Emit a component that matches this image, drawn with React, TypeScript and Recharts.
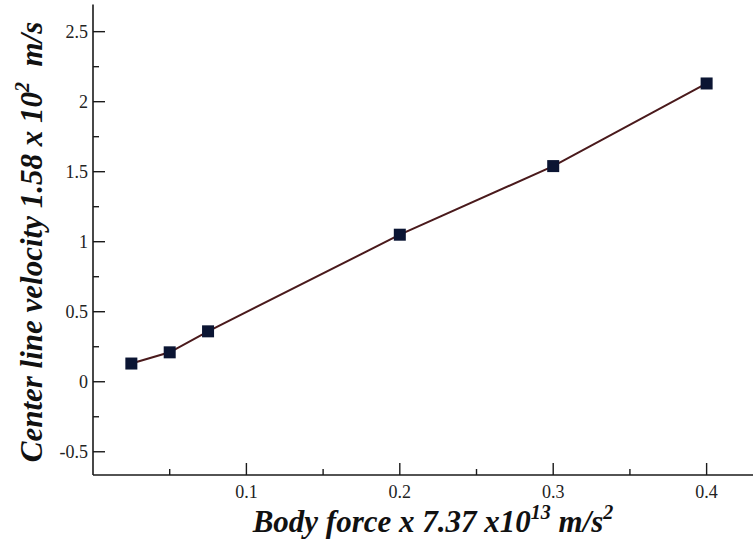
import React from "react";
import { LineChart, Line, XAxis, YAxis, Label } from "recharts";

// Body force (scaled) vs. center line velocity (scaled)
const bodyForce = [0.025, 0.05, 0.075, 0.2, 0.3, 0.4];
const centerVelocity = [0.13, 0.21, 0.36, 1.05, 1.54, 2.13];

const xMajorTicks = [0.1, 0.2, 0.3, 0.4];
const xMinorTicks = [0.05, 0.15, 0.25, 0.35];
const yMajorTicks = [-0.5, 0, 0.5, 1, 1.5, 2, 2.5];
const yMinorTicks = [-0.25, 0.25, 0.75, 1.25, 1.75, 2.25];

const X_DOMAIN: [number, number] = [0, 0.4348];
const Y_DOMAIN: [number, number] = [-0.666, 2.694];

const data = bodyForce.map((f, i) => ({ force: f, velocity: centerVelocity[i] }));

const AXIS_COLOR = "#1a1a1a";
const TICK_TEXT = "#222222";
const LINE_COLOR = "#4a1a1c";
const MARKER_COLOR = "#0b1533";
const SERIF = "Liberation Serif";

const MAJOR_LEN = 12;
const MINOR_LEN = 6;

const xTicksAll = [...xMinorTicks, ...xMajorTicks].sort((a, b) => a - b);
const yTicksAll = [...yMinorTicks, ...yMajorTicks].sort((a, b) => a - b);

const tickTextStyle: React.CSSProperties = { fontFamily: SERIF, fontSize: 18 };

// Inward ticks on the bottom axis, labelled at the major positions
const BottomTick = (props: any) => {
  const { x, y, payload } = props;
  const major = xMajorTicks.includes(payload.value);
  return (
    <g>
      <line x1={x} y1={y} x2={x} y2={y - (major ? MAJOR_LEN : MINOR_LEN)} stroke={AXIS_COLOR} strokeWidth={1.4} />
      {major && (
        <text x={x} y={y + 23} textAnchor="middle" fill={TICK_TEXT} style={tickTextStyle}>
          {payload.value}
        </text>
      )}
    </g>
  );
};

// Inward ticks on the top axis, no labels
const TopTick = (props: any) => {
  const { x, y, payload } = props;
  const major = xMajorTicks.includes(payload.value);
  return (
    <line x1={x} y1={y} x2={x} y2={y + (major ? MAJOR_LEN : MINOR_LEN)} stroke={AXIS_COLOR} strokeWidth={1.4} />
  );
};

// Inward ticks on the left axis, labelled at the major positions
const LeftTick = (props: any) => {
  const { x, y, payload } = props;
  const major = yMajorTicks.includes(payload.value);
  return (
    <g>
      <line x1={x} y1={y} x2={x + (major ? MAJOR_LEN : MINOR_LEN)} y2={y} stroke={AXIS_COLOR} strokeWidth={1.4} />
      {major && (
        <text x={x - 5} y={y + 6} textAnchor="end" fill={TICK_TEXT} style={tickTextStyle}>
          {payload.value}
        </text>
      )}
    </g>
  );
};

// Inward ticks on the right axis at the major positions only
const RightTick = (props: any) => {
  const { x, y } = props;
  return <line x1={x} y1={y} x2={x - MAJOR_LEN} y2={y} stroke={AXIS_COLOR} strokeWidth={1.4} />;
};

const SquareDot = (props: any) => {
  const { cx, cy } = props;
  if (cx == null || cy == null) return null;
  const s = 12;
  return <rect x={cx - s / 2} y={cy - s / 2} width={s} height={s} fill={MARKER_COLOR} />;
};

const titleStyle: React.CSSProperties = {
  fontFamily: SERIF,
  fontSize: 31,
  fontWeight: "bold",
  fontStyle: "italic",
};

const XTitle = () => (
  <text x={433} y={532} textAnchor="middle" fill="#111111" style={titleStyle}>
    <tspan>Body force x 7.37 x10</tspan>
    <tspan style={{ fontSize: 20 }} dy={-13}>13</tspan>
    <tspan dy={13}>{" m/s"}</tspan>
    <tspan style={{ fontSize: 20 }} dy={-13}>2</tspan>
  </text>
);

const YTitle = () => (
  <text x={0} y={0} transform="translate(42, 242) rotate(-90)" textAnchor="middle" fill="#111111" style={titleStyle}>
    <tspan>Center line velocity 1.58 x 10</tspan>
    <tspan style={{ fontSize: 20 }} dy={-13}>2</tspan>
    <tspan dy={13}>{"\u00a0 m/s"}</tspan>
  </text>
);

export default function App() {
  return (
    <div
      style={{
        position: "absolute",
        left: 0,
        top: 0,
        width: 753,
        height: 546,
        overflow: "hidden",
        background: "#ffffff",
      }}
    >
      <LineChart width={780} height={546} data={data} margin={{ top: 4.5, right: 20, bottom: 0, left: 0 }}>
        <XAxis
          xAxisId="bottom"
          dataKey="force"
          type="number"
          domain={X_DOMAIN}
          allowDataOverflow
          orientation="bottom"
          height={71}
          ticks={xTicksAll}
          interval={0}
          tickSize={0}
          tickMargin={0}
          tick={<BottomTick />}
          axisLine={{ stroke: AXIS_COLOR, strokeWidth: 1.6 }}
          tickLine={false}
        >
          <Label content={<XTitle />} />
        </XAxis>
        <XAxis
          xAxisId="top"
          dataKey="force"
          type="number"
          domain={X_DOMAIN}
          allowDataOverflow
          orientation="top"
          height={0}
          ticks={xTicksAll}
          interval={0}
          tickSize={0}
          tickMargin={0}
          tick={<TopTick />}
          axisLine={{ stroke: AXIS_COLOR, strokeWidth: 1.6 }}
          tickLine={false}
        />
        <YAxis
          yAxisId="left"
          type="number"
          domain={Y_DOMAIN}
          allowDataOverflow
          orientation="left"
          width={93}
          ticks={yTicksAll}
          interval={0}
          tickSize={0}
          tickMargin={0}
          tick={<LeftTick />}
          axisLine={{ stroke: AXIS_COLOR, strokeWidth: 1.6 }}
          tickLine={false}
        >
          <Label content={<YTitle />} />
        </YAxis>
        <YAxis
          yAxisId="right"
          type="number"
          domain={Y_DOMAIN}
          allowDataOverflow
          orientation="right"
          width={0}
          ticks={yMajorTicks}
          interval={0}
          tickSize={0}
          tickMargin={0}
          tick={<RightTick />}
          axisLine={{ stroke: AXIS_COLOR, strokeWidth: 1.6 }}
          tickLine={false}
        />
        <Line
          xAxisId="bottom"
          yAxisId="left"
          type="linear"
          dataKey="velocity"
          stroke={LINE_COLOR}
          strokeWidth={2}
          dot={<SquareDot />}
          activeDot={false}
          isAnimationActive={false}
        />
      </LineChart>
    </div>
  );
}
